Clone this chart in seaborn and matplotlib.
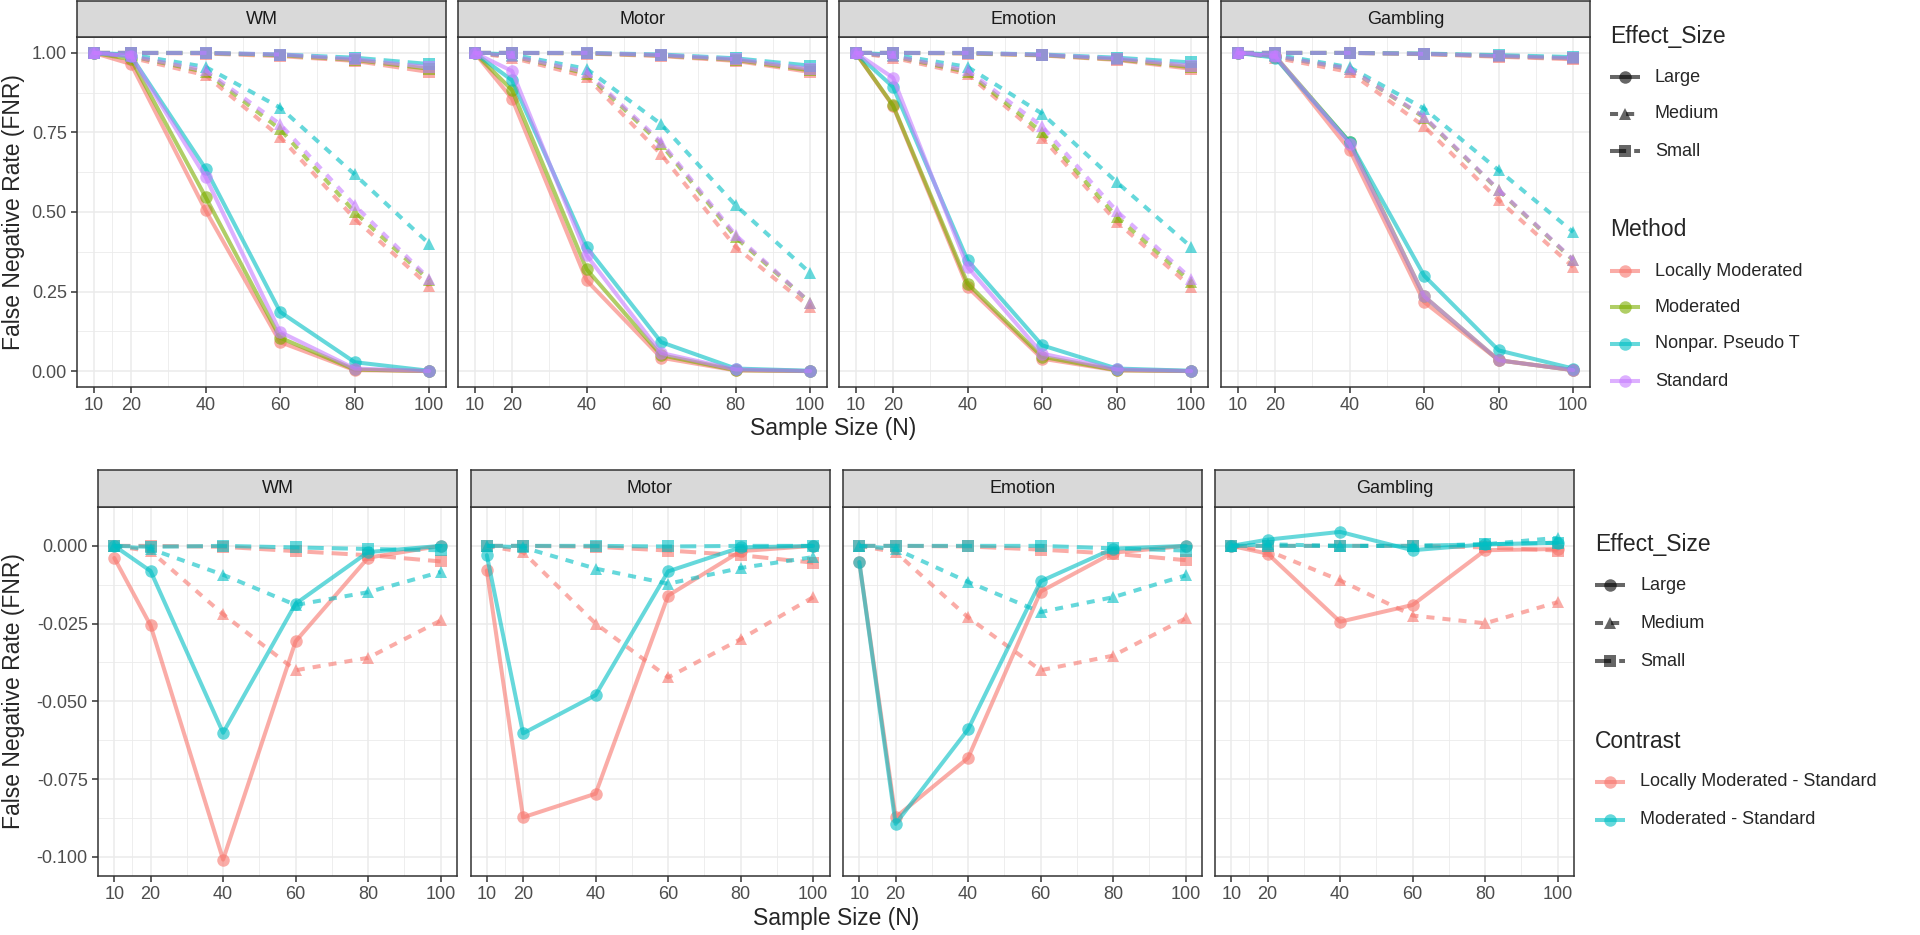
import numpy as np
import pandas as pd
import matplotlib
matplotlib.use("Agg")
import matplotlib.pyplot as plt
from matplotlib.lines import Line2D
from matplotlib.ticker import FormatStrFormatter
import seaborn as sns

W, H = 1920, 935

# ---------------- data ----------------
sample_sizes = [10, 20, 40, 60, 80, 100]
tasks = ["WM", "Motor", "Emotion", "Gambling"]
effect_sizes = ["Large", "Medium", "Small"]
methods = ["Locally Moderated", "Moderated", "Nonpar. Pseudo T", "Standard"]
contrasts = ["Locally Moderated - Standard", "Moderated - Standard"]

# top row: FNR per method (order as in `methods`)
wm_large = [[1.00, 0.965, 0.505, 0.091, 0.003, 0.000],
            [1.00, 0.980, 0.547, 0.105, 0.005, 0.000],
            [1.00, 0.990, 0.636, 0.186, 0.028, 0.001],
            [1.00, 0.990, 0.610, 0.123, 0.008, 0.000]]
wm_medium = [[1.00, 0.985, 0.930, 0.736, 0.479, 0.267],
             [1.00, 0.990, 0.940, 0.760, 0.500, 0.285],
             [1.00, 0.995, 0.956, 0.828, 0.618, 0.400],
             [1.00, 0.990, 0.945, 0.776, 0.521, 0.290]]
wm_small = [[1.00, 1.00, 0.998, 0.990, 0.975, 0.940],
            [1.00, 1.00, 1.000, 0.993, 0.978, 0.950],
            [1.00, 1.00, 1.000, 0.995, 0.985, 0.965],
            [1.00, 1.00, 1.000, 0.995, 0.980, 0.955]]

motor_large = [[1.00, 0.856, 0.285, 0.042, 0.002, 0.000],
               [1.00, 0.883, 0.320, 0.050, 0.003, 0.000],
               [1.00, 0.914, 0.390, 0.091, 0.008, 0.001],
               [1.00, 0.943, 0.364, 0.057, 0.005, 0.000]]
motor_medium = [[1.00, 0.985, 0.925, 0.681, 0.390, 0.200],
                [1.00, 0.990, 0.935, 0.713, 0.420, 0.215],
                [1.00, 0.995, 0.950, 0.776, 0.521, 0.308],
                [1.00, 0.990, 0.940, 0.720, 0.427, 0.215]]
motor_small = [[1.00, 1.00, 0.998, 0.990, 0.975, 0.940],
               [1.00, 1.00, 0.999, 0.992, 0.978, 0.945],
               [1.00, 1.00, 1.000, 0.995, 0.983, 0.960],
               [1.00, 1.00, 1.000, 0.993, 0.980, 0.950]]

emotion_large = [[1.00, 0.833, 0.264, 0.039, 0.002, 0.000],
                 [1.00, 0.835, 0.275, 0.045, 0.003, 0.000],
                 [1.00, 0.893, 0.348, 0.081, 0.008, 0.001],
                 [1.00, 0.922, 0.327, 0.055, 0.005, 0.000]]
emotion_medium = [[1.00, 0.985, 0.933, 0.734, 0.469, 0.264],
                  [1.00, 0.990, 0.940, 0.750, 0.485, 0.280],
                  [1.00, 0.995, 0.956, 0.809, 0.594, 0.390],
                  [1.00, 0.990, 0.945, 0.769, 0.503, 0.290]]
emotion_small = [[1.00, 1.00, 0.998, 0.992, 0.978, 0.950],
                 [1.00, 1.00, 0.999, 0.993, 0.980, 0.955],
                 [1.00, 1.00, 1.000, 0.995, 0.985, 0.970],
                 [1.00, 1.00, 1.000, 0.994, 0.982, 0.960]]

gambling_large = [[1.00, 0.990, 0.695, 0.217, 0.034, 0.003],
                  [1.00, 0.990, 0.720, 0.235, 0.034, 0.003],
                  [1.00, 0.985, 0.720, 0.300, 0.065, 0.008],
                  [1.00, 0.990, 0.715, 0.235, 0.034, 0.003]]
gambling_medium = [[1.00, 0.985, 0.940, 0.769, 0.537, 0.327],
                   [1.00, 0.990, 0.950, 0.797, 0.568, 0.348],
                   [1.00, 0.995, 0.955, 0.825, 0.631, 0.437],
                   [1.00, 0.990, 0.950, 0.800, 0.570, 0.350]]
gambling_small = [[1.00, 1.00, 1.000, 0.996, 0.988, 0.980],
                  [1.00, 1.00, 1.000, 0.997, 0.990, 0.983],
                  [1.00, 1.00, 1.000, 0.998, 0.993, 0.987],
                  [1.00, 1.00, 1.000, 0.997, 0.990, 0.983]]

# bottom row: FNR difference per contrast (order as in `contrasts`)
wm_diff_large = [[-0.0039, -0.0256, -0.1009, -0.0307, -0.0038, 0.0],
                 [0.0, -0.0081, -0.0601, -0.0186, -0.0020, 0.0]]
wm_diff_medium = [[0.0, -0.0017, -0.0220, -0.0400, -0.0360, -0.0240],
                  [0.0, -0.0010, -0.0093, -0.0190, -0.0149, -0.0084]]
wm_diff_small = [[0.0, 0.0, -0.0003, -0.0017, -0.0030, -0.0050],
                 [0.0, -0.0003, 0.0, -0.0005, -0.0010, -0.0014]]

motor_diff_large = [[-0.0079, -0.0873, -0.0797, -0.0160, -0.0017, 0.0],
                    [-0.0030, -0.0603, -0.0480, -0.0082, -0.0005, 0.0]]
motor_diff_medium = [[0.0, -0.0020, -0.0250, -0.0423, -0.0300, -0.0165],
                     [0.0, -0.0005, -0.0073, -0.0122, -0.0071, -0.0036]]
motor_diff_small = [[0.0, 0.0, -0.0003, -0.0015, -0.0030, -0.0054],
                    [0.0, 0.0, 0.0, -0.0002, 0.0, 0.0]]

emotion_diff_large = [[-0.0052, -0.0873, -0.0682, -0.0147, -0.0022, 0.0],
                      [-0.0052, -0.0894, -0.0590, -0.0114, -0.0009, 0.0]]
emotion_diff_medium = [[0.0, -0.0020, -0.0230, -0.0400, -0.0353, -0.0233],
                       [0.0, -0.0010, -0.0116, -0.0213, -0.0165, -0.0095]]
emotion_diff_small = [[0.0, 0.0, -0.0002, -0.0012, -0.0025, -0.0046],
                      [0.0, 0.0, 0.0, 0.0, -0.0008, -0.0015]]

gambling_diff_large = [[0.0, -0.0025, -0.0244, -0.0190, -0.0014, -0.0010],
                       [0.0, 0.0020, 0.0045, -0.0014, 0.0005, 0.0010]]
gambling_diff_medium = [[0.0, -0.0015, -0.0111, -0.0224, -0.0249, -0.0181],
                        [0.0, 0.0005, 0.0, 0.0, 0.0005, 0.0026]]
gambling_diff_small = [[0.0, 0.0, 0.0, 0.0, -0.0005, -0.0015],
                       [0.0, 0.0, 0.0, 0.0, 0.0005, 0.0010]]

top_sets = {
    "WM": [wm_large, wm_medium, wm_small],
    "Motor": [motor_large, motor_medium, motor_small],
    "Emotion": [emotion_large, emotion_medium, emotion_small],
    "Gambling": [gambling_large, gambling_medium, gambling_small],
}
bottom_sets = {
    "WM": [wm_diff_large, wm_diff_medium, wm_diff_small],
    "Motor": [motor_diff_large, motor_diff_medium, motor_diff_small],
    "Emotion": [emotion_diff_large, emotion_diff_medium, emotion_diff_small],
    "Gambling": [gambling_diff_large, gambling_diff_medium, gambling_diff_small],
}


def to_long(sets, groups, group_col):
    rows = []
    for task, per_effect in sets.items():
        for eff, per_group in zip(effect_sizes, per_effect):
            for g, vals in zip(groups, per_group):
                for n, v in zip(sample_sizes, vals):
                    rows.append((task, eff, g, n, v))
    return pd.DataFrame(rows, columns=["Task", "Effect_Size", group_col, "N", "FNR"])


top_df = to_long(top_sets, methods, "Method")
bottom_df = to_long(bottom_sets, contrasts, "Contrast")

# ---------------- style ----------------
sns.set_style("white")
plt.rcParams["font.family"] = ["Liberation Sans", "DejaVu Sans"]
plt.rcParams["axes.unicode_minus"] = False

method_colors = ["#F8766D", "#7CAE00", "#00BFC4", "#C77CFF"]
contrast_colors = ["#F8766D", "#00BFC4"]
marker_map = {"Large": "o", "Medium": "^", "Small": "s"}
dash_map = {"Large": "", "Medium": (2, 2), "Small": (4, 2)}

ALPHA = 0.6
LW = 2.9
MS = 9
BORDER = "#333333"
GRID = "#EBEBEB"
TICK_COL = "#4D4D4D"

fig = plt.figure(figsize=(W / 100, H / 100), dpi=100)


def px_axes(x0, y0, x1, y1):
    return fig.add_axes([x0 / W, 1 - y1 / H, (x1 - x0) / W, (y1 - y0) / H])


def draw_row(df, group_col, order, colors, lefts, width, strip_top, top, bottom,
             yticks, yminor, yfmt):
    lo, hi = df["FNR"].min(), df["FNR"].max()
    pad = 0.05 * (hi - lo)
    xpad = 0.05 * (max(sample_sizes) - min(sample_sizes))
    for i, task in enumerate(tasks):
        x0 = lefts[i]
        ax = px_axes(x0, top, x0 + width, bottom)
        sns.lineplot(data=df[df["Task"] == task], x="N", y="FNR",
                     hue=group_col, hue_order=order, palette=colors,
                     style="Effect_Size", style_order=effect_sizes,
                     markers=marker_map, dashes=dash_map,
                     alpha=ALPHA, linewidth=LW, markersize=MS,
                     markeredgewidth=0, legend=False, ax=ax)
        ax.set_xlim(min(sample_sizes) - xpad, max(sample_sizes) + xpad)
        ax.set_ylim(lo - pad, hi + pad)
        ax.set_xticks(sample_sizes)
        ax.set_xticks([15, 30, 50, 70, 90], minor=True)
        ax.set_yticks(yticks)
        ax.set_yticks(yminor, minor=True)
        ax.yaxis.set_major_formatter(FormatStrFormatter(yfmt))
        ax.set_axisbelow(True)
        ax.grid(which="major", color=GRID, linewidth=1.1)
        ax.grid(which="minor", color=GRID, linewidth=0.6)
        ax.tick_params(which="minor", length=0)
        ax.tick_params(which="major", length=4.3, width=1.1, color=BORDER,
                       labelsize=13, labelcolor=TICK_COL, pad=3)
        ax.tick_params(axis="x", bottom=True)
        if i == 0:
            ax.tick_params(axis="y", left=True)
        else:
            ax.tick_params(axis="y", left=False, labelleft=False)
        ax.set_xlabel("")
        ax.set_ylabel("")
        for sp in ax.spines.values():
            sp.set_color(BORDER)
            sp.set_linewidth(1.1)

        strip = px_axes(x0, strip_top, x0 + width, top)
        strip.set_facecolor("#D9D9D9")
        strip.set_xticks([])
        strip.set_yticks([])
        for sp in strip.spines.values():
            sp.set_color(BORDER)
            sp.set_linewidth(1.1)
        strip.text(0.5, 0.5, task, ha="center", va="center", fontsize=13,
                   color="#1A1A1A", transform=strip.transAxes)


def legend_block(x, title, y_title, labels, y_items, colors, markers, dashes):
    fig.text(x / W, 1 - y_title / H, title, fontsize=16.5, ha="left", va="center")
    for lab, yi, col, mk, ds in zip(labels, y_items, colors, markers, dashes):
        yf = 1 - yi / H
        ls = "-" if ds == "" else (0, ds)
        fig.add_artist(Line2D([x / W, (x + 30) / W], [yf, yf], transform=fig.transFigure,
                              color=col, alpha=ALPHA, linewidth=LW, linestyle=ls,
                              solid_capstyle="butt", dash_capstyle="butt"))
        fig.add_artist(Line2D([(x + 15) / W], [yf], transform=fig.transFigure,
                              color=col, alpha=ALPHA, marker=mk, markersize=MS,
                              markeredgewidth=0, linestyle="none"))
        fig.text((x + 45) / W, yf, lab, fontsize=13, ha="left", va="center")


# top row
draw_row(top_df, "Method", methods, method_colors,
         lefts=[77, 458, 839, 1221], width=369, strip_top=1, top=37, bottom=387,
         yticks=[0, 0.25, 0.5, 0.75, 1.0], yminor=[0.125, 0.375, 0.625, 0.875],
         yfmt="%.2f")
# bottom row
draw_row(bottom_df, "Contrast", contrasts, contrast_colors,
         lefts=[98, 470.5, 843, 1215], width=359, strip_top=470, top=507, bottom=876,
         yticks=[0, -0.025, -0.05, -0.075, -0.1],
         yminor=[0.0125, -0.0125, -0.0375, -0.0625, -0.0875],
         yfmt="%.3f")

# axis titles
fig.text(833 / W, 1 - 428 / H, "Sample Size (N)", fontsize=16.5, ha="center", va="center")
fig.text(836 / W, 1 - 918 / H, "Sample Size (N)", fontsize=16.5, ha="center", va="center")
fig.text(14 / W, 1 - 212 / H, "False Negative Rate (FNR)", fontsize=16.5,
         rotation=90, ha="center", va="center")
fig.text(14 / W, 1 - 691 / H, "False Negative Rate (FNR)", fontsize=16.5,
         rotation=90, ha="center", va="center")

# legends
legend_block(1610, "Effect_Size", 37, effect_sizes, [77, 114, 151],
             ["black"] * 3, [marker_map[e] for e in effect_sizes],
             [dash_map[e] for e in effect_sizes])
legend_block(1610, "Method", 229, methods, [271, 307, 344, 381],
             method_colors, ["o"] * 4, [""] * 4)
legend_block(1595, "Effect_Size", 545, effect_sizes, [585, 623, 661],
             ["black"] * 3, [marker_map[e] for e in effect_sizes],
             [dash_map[e] for e in effect_sizes])
legend_block(1595, "Contrast", 741, contrasts, [782, 820],
             contrast_colors, ["o"] * 2, [""] * 2)

fig.savefig("out.png", dpi=100)
